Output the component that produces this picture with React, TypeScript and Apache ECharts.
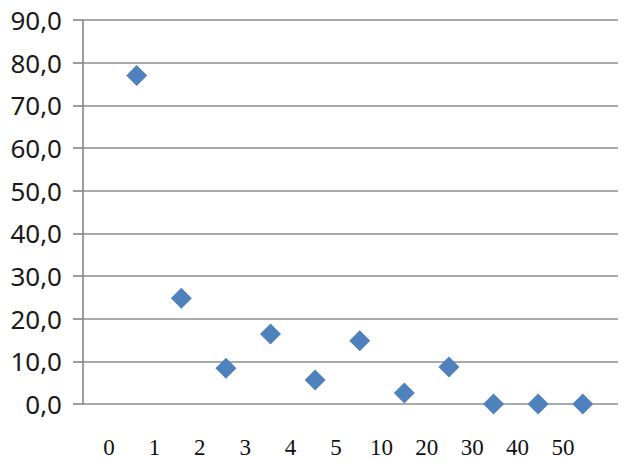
import React, { useEffect, useRef } from "react";
import * as echarts from "echarts";

const categories = ["0", "1", "2", "3", "4", "5", "10", "20", "30", "40", "50"];
const values = [77, 24.8, 8.4, 16.4, 5.6, 14.8, 2.6, 8.7, 0, 0, 0];
const yTicks = [0, 10, 20, 30, 40, 50, 60, 70, 80, 90];

export default function App() {
  const ref = useRef<HTMLDivElement>(null);
  useEffect(() => {
    if (!ref.current) return;
    const chart = echarts.init(ref.current, null, { renderer: "svg" });
    const gridColor = "#8c8c8c";
    chart.setOption({
      animation: false,
      backgroundColor: "#ffffff",
      grid: [
        { left: 83, right: 8, top: 20, bottom: 65 },
        { left: 86.3, right: 40.3, top: 20, bottom: 65 },
      ],
      xAxis: [
        {
          type: "value",
          gridIndex: 0,
          min: -1.204,
          max: 10.79,
          axisLine: { show: false },
          axisTick: { show: false },
          axisLabel: { show: false },
          splitLine: { show: false },
        },
        {
          type: "category",
          gridIndex: 1,
          data: categories,
          boundaryGap: true,
          axisLine: { show: false },
          axisTick: { show: false },
          splitLine: { show: false },
          axisLabel: {
            interval: 0,
            margin: 32,
            color: "#111111",
            fontFamily: "Liberation Serif",
            fontSize: 23,
          },
        },
      ],
      yAxis: [
        {
          type: "value",
          gridIndex: 0,
          min: yTicks[0],
          max: yTicks[yTicks.length - 1],
          interval: 10,
          axisLine: { show: true, onZero: false, lineStyle: { color: gridColor, width: 1.7 } },
          axisTick: { show: true, length: 10, lineStyle: { color: gridColor, width: 1.7 } },
          splitLine: { show: true, lineStyle: { color: gridColor, width: 1.7 } },
          axisLabel: {
            margin: 21,
            color: "#1a1a1a",
            fontFamily: "Noto Sans",
            fontSize: 26,
            formatter: (v: number) => v.toFixed(1).replace(".", ","),
          },
        },
        {
          type: "value",
          gridIndex: 1,
          show: false,
          min: 0,
          max: 90,
        },
      ],
      series: [
        {
          type: "scatter",
          xAxisIndex: 0,
          yAxisIndex: 0,
          symbol: "diamond",
          symbolSize: 21,
          itemStyle: { color: "#4F81BD", opacity: 1 },
          data: values.map((v, i) => [i, v]),
        },
      ],
    });
    return () => chart.dispose();
  }, []);
  return <div ref={ref} style={{ width: 626, height: 469, position: "absolute", left: 0, top: 0 }} />;
}
